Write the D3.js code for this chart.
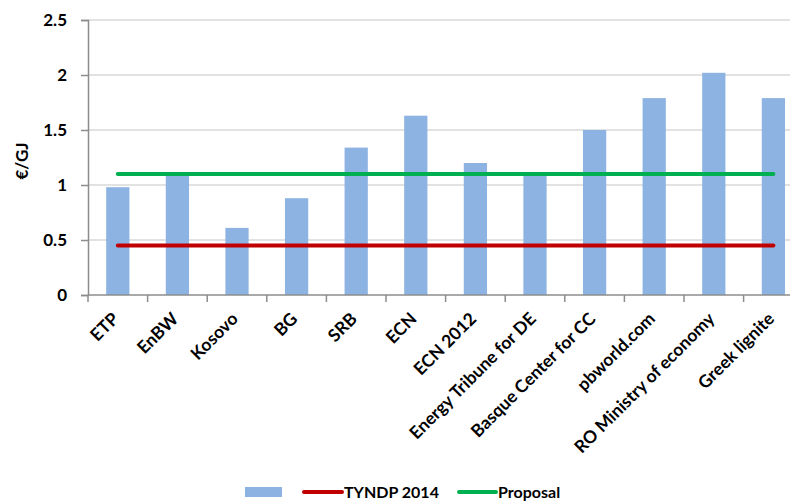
<!DOCTYPE html>
<html><head><meta charset="utf-8">
<script src="https://cdn.jsdelivr.net/npm/d3@7"></script>
<style>body{margin:0;background:#fff}svg{display:block}text{font-family:Lato,"Open Sans",sans-serif;font-weight:bold;fill:#000}</style>
</head><body>
<svg id="c" width="790" height="502"></svg>
<script>
const categories = ["ETP","EnBW","Kosovo","BG","SRB","ECN","ECN 2012","Energy Tribune for DE","Basque Center for CC","pbworld.com","RO Ministry of economy","Greek lignite"];
const values = [0.98,1.09,0.61,0.88,1.34,1.63,1.20,1.10,1.50,1.79,2.02,1.79];
const tyndp = 0.45;
const proposal = 1.1;
const yTicks = [0,0.5,1,1.5,2,2.5];
const legendLabels = ["TYNDP 2014","Proposal"];

(function(){
const svg = d3.select("#c");
const mLeft = 88, mBottom = 295, mTop = 20;
const step = 59.6;
const x = d3.scaleBand().domain(categories).range([mLeft, mLeft + step*categories.length]).paddingInner(0.61).paddingOuter(0.305);
const y = d3.scaleLinear().domain([0,2.5]).range([mBottom, mTop]);

svg.append("g").selectAll("line").data(yTicks.filter(d=>d>0)).join("line")
  .attr("x1", mLeft).attr("x2", 790).attr("y1", d=>y(d)).attr("y2", d=>y(d))
  .attr("stroke", "#d9d9d9").attr("stroke-width", 1.5);

const ya = svg.append("g").attr("transform", `translate(${mLeft},0)`)
  .call(d3.axisLeft(y).tickValues(yTicks).tickSize(7).tickPadding(14).tickFormat(d=>String(d)));
ya.select(".domain").attr("stroke","#8c8c8c").attr("stroke-width",1.5);
ya.selectAll(".tick line").attr("stroke","#8c8c8c").attr("stroke-width",1.5);
ya.selectAll(".tick text").style("font-size","17px").style("font-family","Lato").style("font-weight","bold");

svg.append("g").selectAll("rect").data(values).join("rect")
  .attr("x", (d,i)=>x(categories[i])).attr("width", x.bandwidth())
  .attr("y", d=>y(d)).attr("height", d=>mBottom - y(d))
  .attr("fill", "#8db3e2");

const bandEdges = d3.range(categories.length+1).map(i=>mLeft + i*step);
svg.append("line").attr("x1", mLeft).attr("x2", 790).attr("y1", mBottom).attr("y2", mBottom)
  .attr("stroke","#8c8c8c").attr("stroke-width",1.5);
svg.append("g").selectAll("line").data(bandEdges).join("line")
  .attr("x1", d=>d).attr("x2", d=>d).attr("y1", mBottom).attr("y2", mBottom+7)
  .attr("stroke","#8c8c8c").attr("stroke-width",1.5);
svg.append("g").selectAll("text").data(categories).join("text")
  .attr("transform", d=>`translate(${x(d)+x.bandwidth()/2+2},${mBottom+25}) rotate(-45)`)
  .attr("text-anchor","end").style("font-size","17.5px").text(d=>d);

const cx = d=>x(d)+x.bandwidth()/2;
const x0 = cx(categories[0]), x1 = cx(categories[categories.length-1]);
svg.append("line").attr("x1",x0).attr("x2",x1).attr("y1",y(tyndp)).attr("y2",y(tyndp))
  .attr("stroke","#c00000").attr("stroke-width",4).attr("stroke-linecap","round");
svg.append("line").attr("x1",x0).attr("x2",x1).attr("y1",y(proposal)).attr("y2",y(proposal))
  .attr("stroke","#00b050").attr("stroke-width",4).attr("stroke-linecap","round");

svg.append("text").attr("transform","translate(28,161) rotate(-90)").attr("text-anchor","middle")
  .style("font-size","17px").text("€/GJ");

const ly = 492;
svg.append("rect").attr("x",245).attr("y",ly-5).attr("width",37).attr("height",10).attr("fill","#8db3e2");
svg.append("line").attr("x1",304).attr("x2",342).attr("y1",ly).attr("y2",ly).attr("stroke","#c00000").attr("stroke-width",4).attr("stroke-linecap","round");
svg.append("text").attr("x",344).attr("y",ly+6).style("font-size","16px").text(legendLabels[0]);
svg.append("line").attr("x1",459).attr("x2",496).attr("y1",ly).attr("y2",ly).attr("stroke","#00b050").attr("stroke-width",4).attr("stroke-linecap","round");
svg.append("text").attr("x",498).attr("y",ly+6).style("font-size","16px").text(legendLabels[1]);
})();
</script>
</body></html>
